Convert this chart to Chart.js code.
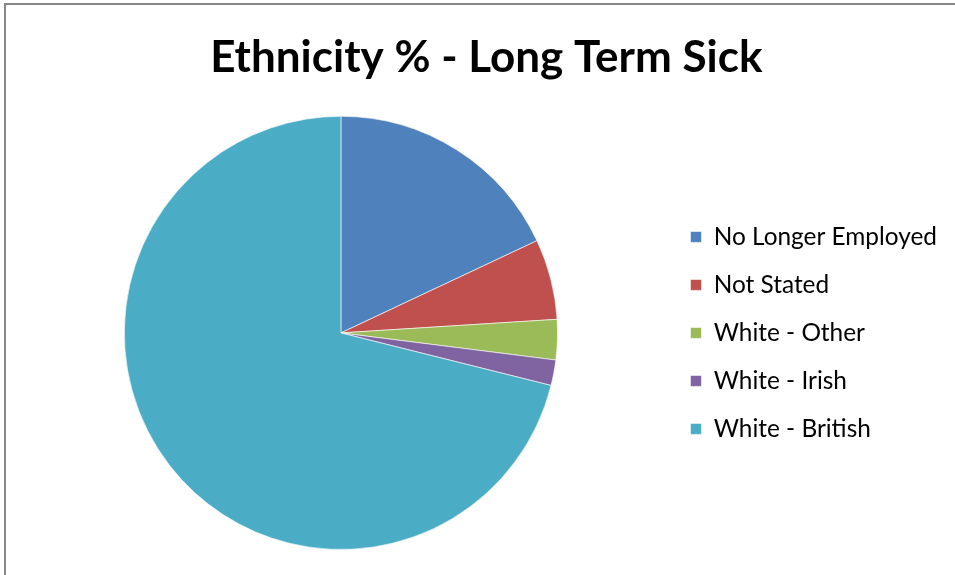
<!DOCTYPE html>
<html>
<head>
<meta charset="utf-8">
<script src="https://cdn.jsdelivr.net/npm/chart.js@4.4.0/dist/chart.umd.min.js"></script>
<style>
  html, body { margin: 0; padding: 0; background: #fff; }
  #wrap { position: relative; width: 955px; height: 575px; overflow: hidden; }
  #frame { position: absolute; left: 4px; top: 3px; width: 1000px; height: 1000px;
           border-left: 2px solid #878787; border-top: 2px solid #878787; }
  #chart { position: absolute; left: 0; top: 0; }
</style>
</head>
<body>
<div id="wrap">
  <div id="frame"></div>
  <canvas id="chart" width="955" height="575"></canvas>
</div>
<script>
// Chart data
const categories = ['No Longer Employed', 'Not Stated', 'White - Other', 'White - Irish', 'White - British'];
const percentages = [18.0, 6.0, 3.0, 1.9, 71.1];
const sliceColors = [
  '#4F81BD', // blue
  '#C0504D', // red
  '#9BBB59', // green
  '#8064A2', // purple
  '#4BACC6', // cyan
];
const chartTitle = 'Ethnicity % - Long Term Sick';

const ctx = document.getElementById('chart').getContext('2d');

new Chart(ctx, {
  type: 'pie',
  data: {
    labels: categories,
    datasets: [{
      data: percentages,
      backgroundColor: sliceColors,
      borderColor: 'rgba(255,255,255,0.6)',
      borderWidth: 1,
    }],
  },
  options: {
    responsive: false,
    animation: false,
    layout: {
      padding: { left: 15, right: 8, top: 0, bottom: 25 },
    },
    plugins: {
      title: {
        display: true,
        // leading space nudges the centred title a few px right, like the original
        text: ' ' + chartTitle,
        color: '#000',
        font: { family: 'Lato', size: 44, weight: 'bold', lineHeight: 1.2 },
        padding: { top: 31, bottom: 32 },
      },
      legend: {
        display: true,
        position: 'right',
        fullSize: false,
        labels: {
          color: '#000',
          boxWidth: 11,
          boxHeight: 11,
          padding: 23.6,
          font: { family: 'Lato', size: 24.4 },
        },
      },
      tooltip: { enabled: false },
    },
  },
});
</script>
</body>
</html>
